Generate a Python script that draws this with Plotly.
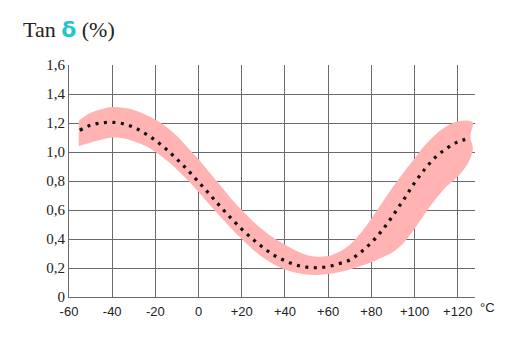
import plotly.graph_objects as go

# Temperature (°C) for the mean tan δ curve
temp = [-55, -50, -45, -40, -35, -30, -25, -20, -15, -10, -5, 0, 5, 10, 15, 20,
        25, 30, 35, 40, 45, 50, 55, 60, 65, 70, 75, 80, 85, 90, 95, 100, 105,
        110, 115, 120, 125]
tan_mean = [1.15, 1.185, 1.20, 1.205, 1.195, 1.17, 1.13, 1.08, 1.02, 0.95, 0.875,
            0.793, 0.71, 0.625, 0.544, 0.468, 0.40, 0.34, 0.287, 0.25, 0.221,
            0.206, 0.202, 0.21, 0.23, 0.255, 0.308, 0.375, 0.46, 0.562, 0.672,
            0.787, 0.886, 0.969, 1.026, 1.07, 1.093]

# Band (range) limits
band_temp = [-55.5, -50, -45, -40, -35, -30, -25, -20, -15, -10, -5, 0, 5, 10, 15,
             20, 25, 30, 35, 40, 45, 50, 55, 60, 65, 70, 75, 80, 85, 90, 95, 100,
             105, 110, 115, 120, 125, 127]
band_upper = [1.215, 1.27, 1.295, 1.31, 1.305, 1.29, 1.26, 1.225, 1.175, 1.11, 1.03,
              0.95, 0.86, 0.77, 0.68, 0.60, 0.525, 0.46, 0.405, 0.36, 0.32, 0.29,
              0.278, 0.283, 0.31, 0.36, 0.44, 0.54, 0.65, 0.76, 0.86, 0.955, 1.05,
              1.125, 1.18, 1.21, 1.215, 1.20]
band_lower = [1.04, 1.065, 1.085, 1.10, 1.095, 1.075, 1.045, 1.00, 0.945, 0.88, 0.805,
              0.725, 0.64, 0.555, 0.475, 0.40, 0.33, 0.27, 0.225, 0.19, 0.167, 0.155,
              0.152, 0.158, 0.17, 0.19, 0.213, 0.24, 0.272, 0.31, 0.375, 0.47, 0.58,
              0.68, 0.765, 0.83, 0.93, 1.02]

x_ticks = [-60, -40, -20, 0, 20, 40, 60, 80, 100, 120]
x_labels = ["-60", "-40", "-20", "0", "+20", "+40", "+60", "+80", "+100", "+120"]
y_ticks = [0, 0.2, 0.4, 0.6, 0.8, 1.0, 1.2, 1.4, 1.6]
y_labels = ["0", "0,2", "0,4", "0,6", "0,8", "1,0", "1,2", "1,4", "1,6"]

# polygon: upper edge forward, small notch at the right end, lower edge back
poly_x = band_temp + [125.8] + band_temp[::-1]
poly_y = band_upper + [1.11] + band_lower[::-1]

fig = go.Figure()
fig.add_trace(go.Scatter(
    x=poly_x, y=poly_y, mode="lines", fill="toself",
    fillcolor="#FFB3B3", line=dict(width=0, color="#FFB3B3"),
    line_shape="spline", hoverinfo="skip", showlegend=False))
fig.add_trace(go.Scatter(
    x=temp, y=tan_mean, mode="lines", line_shape="spline",
    line=dict(color="#111111", width=3.2, dash="3px,5.5px"),
    showlegend=False))

grid_col = "#6a6a6a"
fig.update_layout(
    width=512, height=344,
    margin=dict(l=69, r=37, t=65, b=47),
    paper_bgcolor="white", plot_bgcolor="white",
    xaxis=dict(range=[-60, 128], tickvals=x_ticks, ticktext=x_labels,
               showgrid=True, gridcolor=grid_col, gridwidth=1,
               showline=True, linecolor=grid_col, linewidth=1,
               zeroline=False, ticks="", ticklabelstandoff=2,
               tickfont=dict(family="Liberation Sans Narrow, Liberation Sans", size=13, color="#222")),
    yaxis=dict(range=[0, 1.6], tickvals=y_ticks, ticktext=y_labels,
               showgrid=True, gridcolor=grid_col, gridwidth=1,
               showline=True, linecolor=grid_col, linewidth=1,
               zeroline=False, ticks="",
               tickfont=dict(family="Liberation Serif, serif", size=15, color="#222")),
    annotations=[
        dict(text="Tan <span style='color:#22C6D0;font-family:DejaVu Sans;font-weight:bold'>δ</span> (%)",
             xref="paper", yref="paper", x=-0.118, y=1.151,
             xanchor="left", yanchor="middle", showarrow=False,
             font=dict(family="Liberation Serif, serif", size=22, color="#222")),
        dict(text="°C", xref="paper", yref="paper", x=1.03, y=-0.045,
             xanchor="center", yanchor="middle", showarrow=False,
             font=dict(family="Liberation Sans Narrow, Liberation Sans", size=13, color="#222")),
    ],
)

fig.write_html("out.html")
